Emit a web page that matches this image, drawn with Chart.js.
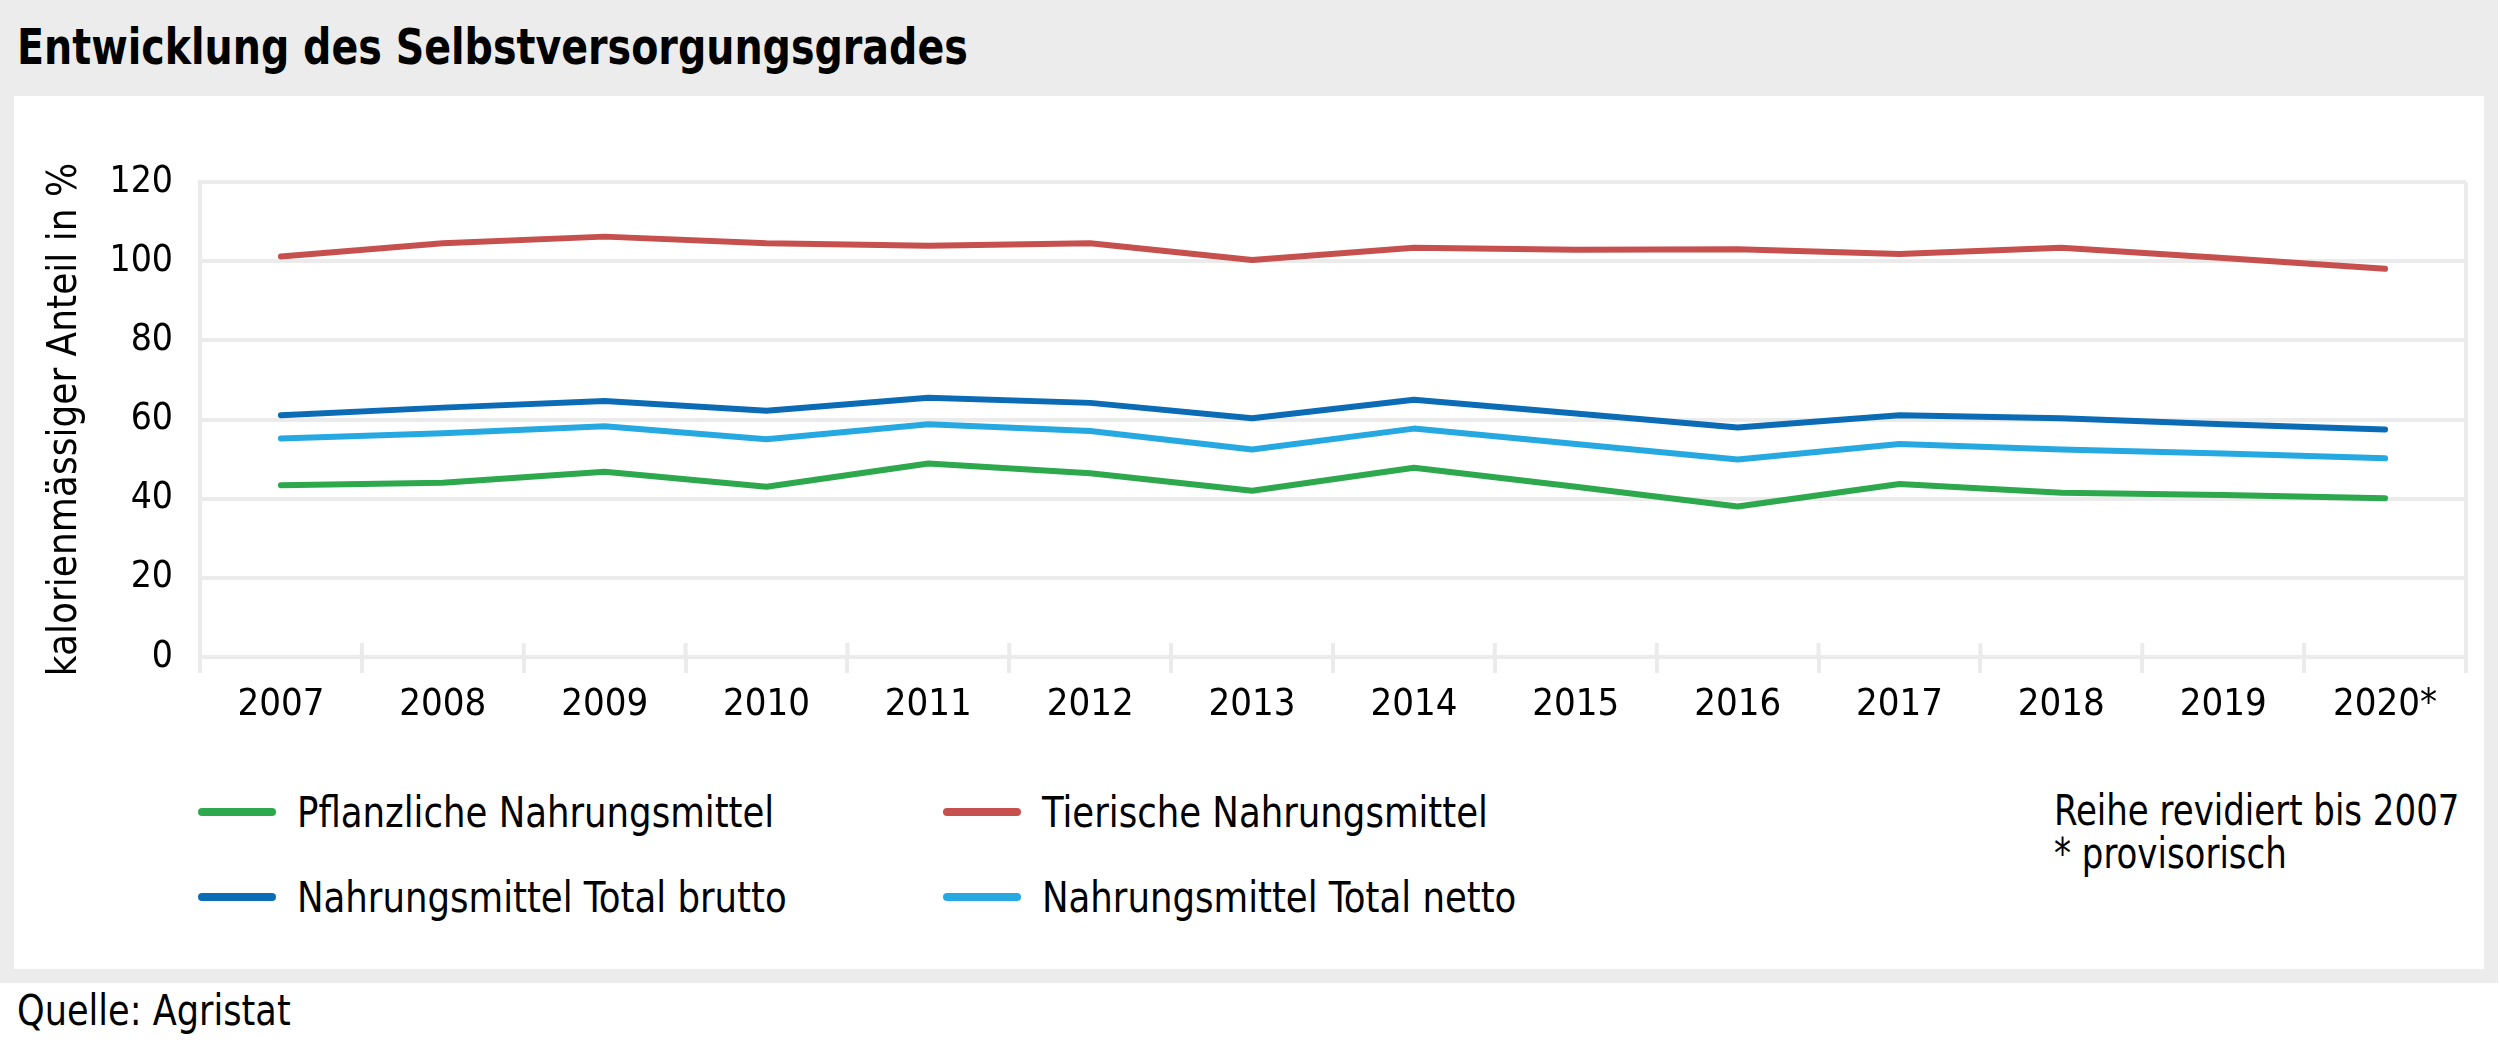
<!DOCTYPE html>
<html>
<head>
<meta charset="utf-8">
<script src="https://cdn.jsdelivr.net/npm/chart.js@4.4.1/dist/chart.umd.min.js"></script>
<style>
  html, body { margin: 0; padding: 0; }
  body {
    width: 2500px; height: 1046px; position: relative; overflow: hidden;
    background: #fff;
    font-family: "Liberation Sans Narrow", "DejaVu Sans Condensed", sans-serif;
    color: #000;
  }
  .frame { position: absolute; left: 0; top: 0; width: 2498px; height: 983px; background: #ececec; }
  .title { position: absolute; left: 17px; top: 15px; font-size: 50px; font-weight: bold; line-height: 64px; white-space: nowrap; transform: scaleX(0.88); transform-origin: left center; }
  .panel { position: absolute; left: 14px; top: 96px; width: 2470px; height: 873px; background: #fff; }
  .chart-box { position: absolute; left: 14px; top: 96px; width: 2470px; height: 661px; }
  .legend-item { position: absolute; height: 50px; display: flex; align-items: center; font-size: 42px; white-space: nowrap; }
  .legend-item .swatch { width: 78px; height: 8px; border-radius: 4px; margin-right: 21px; flex: none; }
  .legend-item .label { display: inline-block; transform: scaleX(0.94); transform-origin: left center; }
  .note { position: absolute; left: 2054px; top: 789px; font-size: 42px; line-height: 43px; white-space: nowrap; transform: scaleX(0.9); transform-origin: left top; }
  .source { position: absolute; left: 17px; top: 986px; font-size: 42px; line-height: 50px; white-space: nowrap; transform: scaleX(0.93); transform-origin: left center; }
</style>
</head>
<body>
<div class="frame"></div>
<div class="title">Entwicklung des Selbstversorgungsgrades</div>
<div class="panel"></div>
<div class="chart-box"><canvas id="myChart"></canvas></div>
<div class="note">Reihe revidiert bis 2007<br>* provisorisch</div>
<div class="source">Quelle: Agristat</div>
<script>
const years = ['2007', '2008', '2009', '2010', '2011', '2012', '2013', '2014', '2015', '2016', '2017', '2018', '2019', '2020*'];
const pflanzlich = [43.4, 44.0, 46.8, 43.0, 48.9, 46.4, 42.0, 47.8, 43.0, 38.0, 43.7, 41.5, 40.9, 40.1];
const tierisch = [101.2, 104.5, 106.2, 104.5, 103.9, 104.5, 100.3, 103.4, 102.9, 103.0, 101.8, 103.4, 100.8, 98.1];
const totalBrutto = [61.1, 63.0, 64.7, 62.2, 65.5, 64.2, 60.3, 65.0, 61.5, 58.0, 61.1, 60.3, 58.8, 57.5];
const totalNetto = [55.2, 56.5, 58.3, 55.0, 58.8, 57.1, 52.4, 57.7, 53.8, 49.9, 53.8, 52.4, 51.4, 50.2];
const yTicks = [0, 20, 40, 60, 80, 100, 120];

const FONT = '"Liberation Sans Narrow", "DejaVu Sans Condensed", sans-serif';
const GRID = '#ebebeb';

// tick stubs above the x axis and the right frame line
const frameLines = {
  id: 'frameLines',
  beforeDatasetsDraw(chart) {
    const { ctx, chartArea } = chart;
    const x = chart.scales.x;
    const step = (x.right - x.left) / years.length;
    ctx.save();
    ctx.strokeStyle = GRID;
    ctx.lineWidth = 4;
    ctx.beginPath();
    for (let i = 0; i <= years.length; i++) {
      const px = x.left + i * step;
      ctx.moveTo(px, chartArea.bottom - 14);
      ctx.lineTo(px, chartArea.bottom);
    }
    ctx.moveTo(chartArea.right, chartArea.top);
    ctx.lineTo(chartArea.right, chartArea.bottom);
    ctx.stroke();
    ctx.restore();
  },
};

const series = (label, data, color) => ({
  label,
  data,
  borderColor: color,
  backgroundColor: color,
  borderWidth: 6,
  borderCapStyle: 'round',
  borderJoinStyle: 'round',
  pointRadius: 0,
  fill: false,
  tension: 0,
});

const chart = new Chart(document.getElementById('myChart'), {
  type: 'line',
  data: {
    labels: years,
    datasets: [
      series('Pflanzliche Nahrungsmittel', pflanzlich, '#2da84d'),
      series('Tierische Nahrungsmittel', tierisch, '#c6504e'),
      series('Nahrungsmittel Total brutto', totalBrutto, '#0b6cb5'),
      series('Nahrungsmittel Total netto', totalNetto, '#26a9e1'),
    ],
  },
  options: {
    responsive: true,
    maintainAspectRatio: false,
    animation: false,
    layout: { padding: { top: 86, right: 18, left: 0, bottom: 0 } },
    plugins: { legend: { display: false }, tooltip: { enabled: false } },
    scales: {
      x: {
        offset: true,
        grid: { offset: true, drawOnChartArea: false, drawTicks: true, tickLength: 16, color: GRID, lineWidth: 4 },
        border: { display: true, color: GRID, width: 4 },
        ticks: { color: '#000', padding: 9, maxRotation: 0, font: { family: FONT, size: 38 } },
        afterFit: (scale) => { scale.height = 100; },
      },
      y: {
        min: 0,
        max: 120,
        afterBuildTicks: (scale) => { scale.ticks = yTicks.map((v) => ({ value: v })); },
        grid: { color: GRID, lineWidth: 4, drawTicks: false },
        border: { display: true, color: GRID, width: 4 },
        ticks: { color: '#000', padding: 27, font: { family: FONT, size: 37 } },
        title: {
          display: true,
          text: 'kalorienmässiger Anteil in %',
          color: '#000',
          padding: { top: 28, bottom: 0 },
          font: { family: FONT, size: 40 },
        },
        afterFit: (scale) => { scale.width = 186; },
      },
    },
  },
  plugins: [frameLines],
});

// legend in two columns, built from the datasets
const legendCols = [198, 943];
const legendRows = [812, 897];
chart.data.datasets.forEach((ds, i) => {
  const item = document.createElement('div');
  item.className = 'legend-item';
  item.style.left = legendCols[i % 2] + 'px';
  item.style.top = (legendRows[Math.floor(i / 2)] - 25) + 'px';
  const swatch = document.createElement('span');
  swatch.className = 'swatch';
  swatch.style.background = ds.borderColor;
  const text = document.createElement('span');
  text.className = 'label';
  text.textContent = ds.label;
  item.appendChild(swatch);
  item.appendChild(text);
  document.body.appendChild(item);
});
</script>
</body>
</html>
